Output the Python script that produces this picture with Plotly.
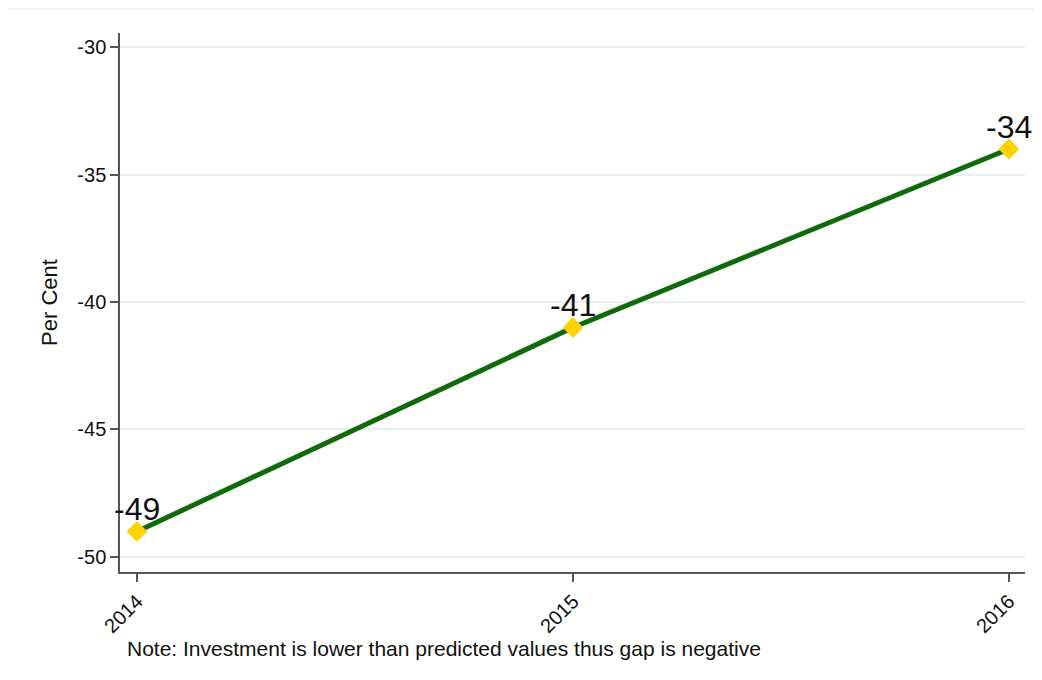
import plotly.graph_objects as go

years = [2014, 2015, 2016]
gap = [-49, -41, -34]
labels = ["-49", "-41", "-34"]
y_ticks = [-50, -45, -40, -35, -30]
x_ticks = [2014, 2015, 2016]
note = "Note: Investment is lower than predicted values thus gap is negative"

OFF = 8  # page body margin
W, H = 1042 - OFF, 680 - OFF
L, R, T, B = 120 - OFF, 17, 33 - OFF, 108
pw = W - L - R
ph = H - T - B

def px_x(p):
    return (p - OFF - L) / pw

def px_y(p):
    return (H - B - (p - OFF)) / ph

fig = go.Figure()
fig.add_trace(go.Scatter(
    x=years, y=gap, mode="lines+markers",
    line=dict(color="#0f6a0a", width=5),
    marker=dict(symbol="diamond", size=16, color="#ffd200", line=dict(width=0)),
    cliponaxis=False, showlegend=False,
))

annotations = [
    dict(text=t, x=xv, y=yv, xref="x", yref="y", showarrow=False,
         xanchor="center", yanchor="bottom", yshift=2,
         font=dict(family="Liberation Sans, Arial", size=32, color="#111111"))
    for xv, yv, t in zip(years, gap, labels)
]
annotations.append(
    dict(text=note, xref="paper", yref="paper", x=px_x(125), y=px_y(648),
         xanchor="left", yanchor="middle", showarrow=False,
         font=dict(size=21, color="#111111"))
)

fig.update_layout(
    width=W, height=H,
    margin=dict(l=L, r=R, t=T, b=B),
    paper_bgcolor="white", plot_bgcolor="white",
    font=dict(family="Liberation Sans, Arial", color="#111111"),
    xaxis=dict(
        range=[2013.961, 2016.037], tickvals=x_ticks, ticktext=[str(v) for v in x_ticks],
        tickangle=-45, ticks="outside", ticklen=8, tickcolor="#555555", tickwidth=1.5,
        showline=True, linecolor="#555555", linewidth=1.5, showgrid=False, zeroline=False,
        tickfont=dict(size=20, color="#111111"),
    ),
    yaxis=dict(
        range=[-50.59, -29.45], tickvals=y_ticks, ticktext=[str(v) for v in y_ticks],
        ticks="outside", ticklen=8, tickcolor="#555555", tickwidth=1.5,
        showline=True, linecolor="#555555", linewidth=1.5,
        showgrid=True, gridcolor="#e6eff1", gridwidth=1.5, zeroline=False,
        tickfont=dict(size=20, color="#111111"),
        title=dict(text="Per Cent", font=dict(size=22, color="#111111"), standoff=14),
    ),
    shapes=[
        dict(type="rect", xref="paper", yref="paper",
             x0=px_x(5), x1=px_x(1070), y0=px_y(700), y1=px_y(8.5),
             line=dict(color="#e8f0f2", width=2)),
    ],
    annotations=annotations,
)

fig.write_html("out.html")
